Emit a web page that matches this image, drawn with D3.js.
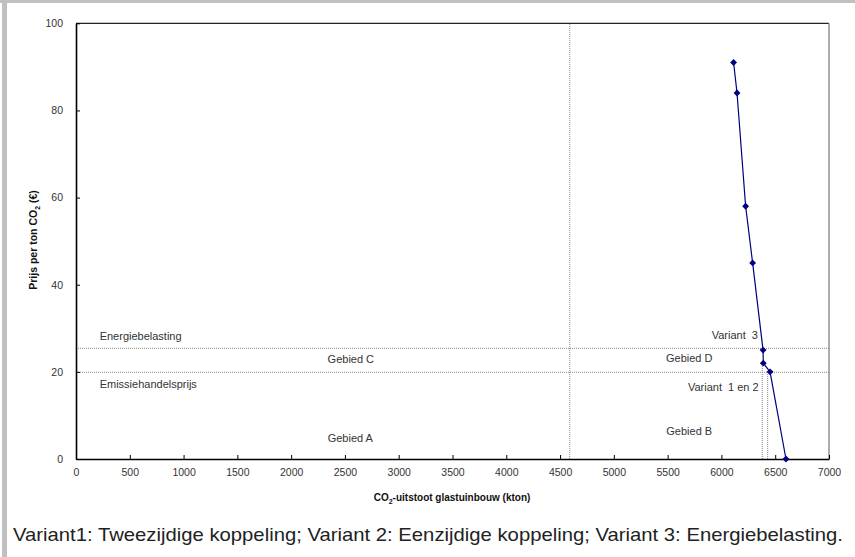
<!DOCTYPE html>
<html><head><meta charset="utf-8">
<script src="https://cdn.jsdelivr.net/npm/d3@7"></script>
<style>body{margin:0;background:#fff}svg{display:block}</style>
</head><body>
<svg id="c" width="855" height="557"></svg>
<script>
// ---- data ----
const emissions = [6113, 6145, 6225, 6290, 6387, 6389, 6452, 6600]; // kton
const prices    = [91, 84, 58, 45, 25, 22, 20, 0];                   // euro per ton
const xTickValues = [0,500,1000,1500,2000,2500,3000,3500,4000,4500,5000,5500,6000,6500,7000];
const yTickValues = [0,20,40,60,80,100];
const priceLines = [25.4, 19.9];            // Energiebelasting, Emissiehandelsprijs
const fullVLine = [4590];
const shortVLineX = [6380, 6430];
const shortVLineTop = [22, 20];
const labelTexts = ["Energiebelasting","Emissiehandelsprijs","Gebied C","Gebied A","Gebied D","Gebied B","Variant  3","Variant  1 en 2"];
const caption = "Variant1: Tweezijdige koppeling; Variant 2: Eenzijdige koppeling; Variant 3: Energiebelasting.";

const svg = d3.select("#c");
// grey frame
svg.append("rect").attr("x",0).attr("y",0).attr("width",855).attr("height",557).attr("fill","#fff");
svg.append("rect").attr("x",2).attr("y",0).attr("width",5).attr("height",557).attr("fill","#c0c0c0");
svg.append("rect").attr("x",0).attr("y",0).attr("width",855).attr("height",3).attr("fill","#c0c0c0");

const x = d3.scaleLinear().domain([0,7000]).range([76,829]);
const y = d3.scaleLinear().domain([0,100]).range([459,23.3]);

const F = "'Liberation Sans', Arial, sans-serif";

// plot frame (top & right)
svg.append("line").attr("x1",x(0)).attr("x2",x(7000)).attr("y1",y(100)).attr("y2",y(100)).attr("stroke","#222").attr("stroke-width",1.3);
svg.append("line").attr("x1",x(7000)).attr("x2",x(7000)).attr("y1",y(100)).attr("y2",y(0)).attr("stroke","#808080").attr("stroke-width",1.3);

// reference dotted lines
const dot = sel => sel.attr("stroke","#888").attr("stroke-width",1).attr("stroke-dasharray","1,1").attr("fill","none");
priceLines.forEach(v => dot(svg.append("line").attr("x1",x(0)).attr("x2",x(7000)).attr("y1",y(v)).attr("y2",y(v))));
fullVLine.forEach(v => dot(svg.append("line").attr("x1",x(v)).attr("x2",x(v)).attr("y1",y(0)).attr("y2",y(100))));
shortVLineX.forEach((v,i) => dot(svg.append("line").attr("x1",x(v)).attr("x2",x(v)).attr("y1",y(0)).attr("y2",y(shortVLineTop[i]))));

// axes
const xAxis = d3.axisBottom(x).tickValues(xTickValues).tickSizeInner(-4).tickSizeOuter(0).tickPadding(10).tickFormat(d3.format("d"));
const gx = svg.append("g").attr("transform",`translate(0,${y(0)})`).call(xAxis);
const yAxis = d3.axisLeft(y).tickValues(yTickValues).tickSizeInner(-4).tickSizeOuter(0).tickPadding(13);
const gy = svg.append("g").attr("transform",`translate(${x(0)},0)`).call(yAxis);
[gx,gy].forEach(g=>{
  g.select(".domain").attr("stroke","#000").attr("stroke-width",1.6);
  g.selectAll(".tick line").attr("stroke","#000").attr("stroke-width",1);
  g.selectAll(".tick text").attr("fill","#333").style("font-family",F).style("font-size","10.5px");
});

// axis titles
const xt = svg.append("text").attr("x",452).attr("y",501).attr("text-anchor","middle")
  .style("font-family",F).style("font-size","10px").style("font-weight","bold").attr("fill","#111");
xt.append("tspan").text("CO");
xt.append("tspan").text("2").attr("dy",3).style("font-size","7px");
xt.append("tspan").text("-uitstoot glastuinbouw (kton)").attr("dy",-3);

const yt = svg.append("text").attr("transform","translate(37,240) rotate(-90)").attr("text-anchor","middle")
  .style("font-family",F).style("font-size","10.5px").style("font-weight","bold").attr("fill","#111");
yt.append("tspan").text("Prijs per ton CO");
yt.append("tspan").text("2").attr("dy",3).style("font-size","7px");
yt.append("tspan").text(" (€)").attr("dy",-3);

// annotations (data coordinates)
const ann = [
  {t:labelTexts[0], x:220,  y:28.3, a:"start"},
  {t:labelTexts[1], x:220,  y:17.2, a:"start"},
  {t:labelTexts[2], x:2555, y:23.0, a:"middle"},
  {t:labelTexts[3], x:2550, y:4.9,  a:"middle"},
  {t:labelTexts[4], x:5701, y:23.1, a:"middle"},
  {t:labelTexts[5], x:5701, y:6.5,  a:"middle"},
  {t:labelTexts[6], x:6340, y:28.5, a:"end"},
  {t:labelTexts[7], x:6346, y:16.6, a:"end"}
];
svg.append("g").selectAll("text").data(ann).join("text")
  .attr("x",d=>x(d.x)).attr("y",d=>y(d.y)+4).attr("text-anchor",d=>d.a)
  .style("font-family",F).style("font-size","11px").style("white-space","pre").attr("xml:space","preserve")
  .attr("fill","#333").text(d=>d.t);

// series
const pts = emissions.map((e,i)=>({x:e,y:prices[i]}));
svg.append("path").datum(pts)
  .attr("d", d3.line().x(d=>x(d.x)).y(d=>y(d.y)))
  .attr("fill","none").attr("stroke","#000080").attr("stroke-width",1.2);
const sym = d3.symbol().type(d3.symbolDiamond2 || d3.symbolDiamond).size(30);
svg.append("g").selectAll("path").data(pts).join("path")
  .attr("transform",d=>`translate(${x(d.x)},${y(d.y)})`).attr("d",sym).attr("fill","#000080");

// caption
svg.append("text").attr("x",13).attr("y",541)
  .style("font-family",F)
  .style("font-size","19px").attr("fill","#222")
  .attr("textLength",830).attr("lengthAdjust","spacingAndGlyphs").text(caption);
</script>
</body></html>
